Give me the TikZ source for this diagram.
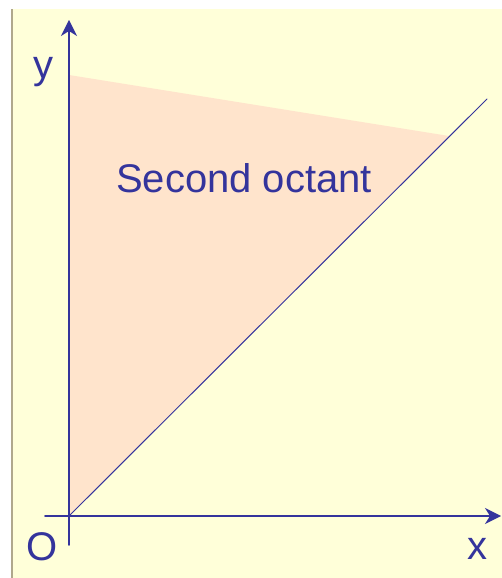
\documentclass[tikz,border=0pt]{standalone}
\usepackage{fontspec}
\setmainfont{Liberation Sans}
\usetikzlibrary{arrows.meta}
\definecolor{paper}{RGB}{255,255,217}
\definecolor{octant}{RGB}{255,228,204}
\definecolor{axisblue}{RGB}{52,52,156}
\definecolor{edgegray}{RGB}{176,168,140}
\begin{document}
\begin{tikzpicture}[x=1pt,y=1pt,line cap=round,line join=round,
  font=\fontsize{40}{44}\selectfont,
  axis/.style={draw=axisblue,line width=1.6pt,-{Stealth[length=16pt,width=16pt,inset=5pt]}},
  lbl/.style={text=axisblue,inner sep=0pt}]
\useasboundingbox (0,0) rectangle (502,578);
% backdrop
\fill[paper] (12,0) rectangle (502,569);
\draw[edgegray,line width=1.2pt,line cap=butt] (12,0) -- (12,569);
% octant region
\coordinate (O) at (69,62);
\coordinate (ytop) at (69,503);
\coordinate (diagend) at (449,442);
\fill[octant] (O) -- (ytop) -- (diagend) -- cycle;
% axes
\draw[axis] (69,33) -- (69,558);
\draw[axis] (45,62) -- (501,62);
\draw[axisblue,line width=1pt] (O) -- (487,479);
% labels
\node[lbl] (ylabel) at (43,506) {y};
\node[lbl] (olabel) at (42,31) {O};
\node[lbl] (xlabel) at (477,29) {x};
\node[lbl,anchor=base west] (region) at (116,385) {Second octant};
\end{tikzpicture}
\end{document}
